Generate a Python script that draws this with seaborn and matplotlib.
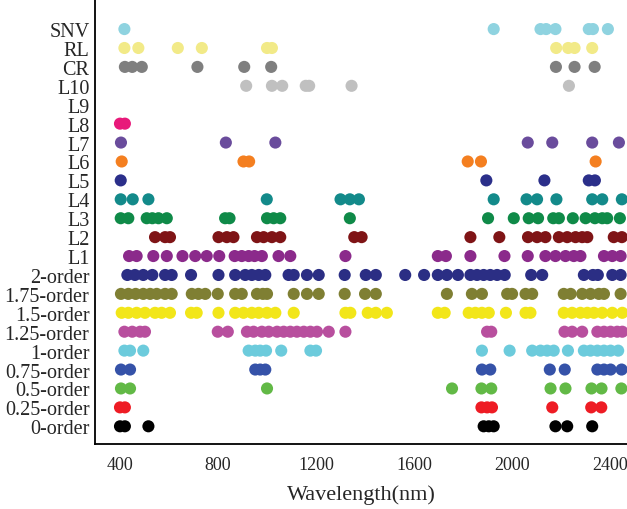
import matplotlib
matplotlib.use("Agg")
import matplotlib.pyplot as plt
import seaborn as sns
import pandas as pd

categories = ["0-order", "0.25-order", "0.5-order", "0.75-order", "1-order",
              "1.25-order", "1.5-order", "1.75-order", "2-order", "L1", "L2",
              "L3", "L4", "L5", "L6", "L7", "L8", "L9", "L10", "CR", "RL", "SNV"]

order_0 = [400, 420, 516, 1884, 1905, 1925, 2177, 2225, 2327]
order_025 = [400, 420, 1875, 1898, 1918, 2164, 2323, 2364]
order_05 = [404, 441, 1000, 1755, 1875, 1915, 2157, 2218, 2324, 2365, 2446]
order_075 = [404, 441, 952, 972, 993, 1877, 1911, 2154, 2215, 2348, 2375, 2402, 2447]
order_1 = [418, 441, 495, 925, 952, 972, 996, 1058, 1177, 1200, 1877, 1990,
           2082, 2116, 2143, 2170, 2228, 2293, 2320, 2348, 2375, 2402, 2433]
order_125 = [418, 450, 482, 502, 799, 840, 918, 945, 979, 1007, 1041, 1068, 1095,
             1122, 1150, 1177, 1204, 1252, 1320, 1898, 1915, 2214, 2245, 2286,
             2348, 2375, 2402, 2429, 2450]
order_15 = [407, 434, 468, 502, 543, 570, 604, 690, 713, 802, 870, 904, 938, 966,
            1000, 1034, 1109, 1320, 1340, 1411, 1444, 1489, 1697, 1725, 1823,
            1850, 1877, 1905, 1975, 2055, 2075, 2211, 2245, 2279, 2307, 2334,
            2368, 2409, 2450]
order_175 = [404, 434, 464, 495, 523, 550, 584, 611, 693, 720, 748, 799, 870, 897,
             959, 983, 1000, 1109, 1163, 1211, 1317, 1400, 1444, 1734, 1836, 1877,
             1980, 2000, 2055, 2082, 2211, 2239, 2286, 2320, 2354, 2375, 2443]
order_2 = [430, 461, 495, 532, 584, 611, 690, 802, 870, 911, 938, 966, 993, 1088,
           1109, 1163, 1211, 1317, 1403, 1444, 1564, 1641, 1697, 1734, 1779, 1830,
           1857, 1884, 1911, 1939, 1970, 2078, 2123, 2293, 2330, 2350, 2409, 2443]
L1 = [437, 468, 536, 591, 655, 707, 754, 805, 868, 897, 925, 949, 979, 1047, 1095,
      1320, 1697, 1730, 1830, 1969, 2064, 2136, 2177, 2218, 2252, 2279, 2375,
      2409, 2443]
L2 = [543, 584, 604, 802, 836, 863, 959, 986, 1020, 1054, 1356, 1386, 1830, 1948,
      2065, 2102, 2136, 2191, 2225, 2259, 2286, 2307, 2415, 2448]
L3 = [403, 434, 509, 532, 557, 591, 829, 847, 1000, 1027, 1054, 1338, 1902, 2007,
      2068, 2106, 2168, 2191, 2248, 2300, 2338, 2368, 2388, 2440]
L4 = [403, 452, 516, 999, 1300, 1338, 1375, 1925, 2059, 2102, 2181, 2327, 2368, 2448]
L5 = [403, 1895, 2132, 2313, 2338]
L6 = [407, 904, 927, 1819, 1873, 2341]
L7 = [404, 832, 1034, 2064, 2164, 2327, 2436]
L8 = [400, 420]
L9 = []
L10 = [915, 1020, 1062, 1158, 1172, 1345, 2232]
CR = [420, 450, 489, 716, 907, 1017, 2179, 2255, 2337]
RL = [418, 475, 636, 734, 1000, 1020, 2180, 2229, 2255, 2327]
SNV = [418, 1925, 2116, 2139, 2177, 2313, 2330, 2391]

series = [order_0, order_025, order_05, order_075, order_1, order_125, order_15,
          order_175, order_2, L1, L2, L3, L4, L5, L6, L7, L8, L9, L10, CR, RL, SNV]

colors = ["#000000", "#ee1c24", "#62b946", "#3552a8", "#6ccbdc", "#b84f9e",
          "#f2e619", "#7f7f33", "#2b2e84", "#8b2a8b", "#7f1416", "#0f8a48",
          "#138a8a", "#2b2f8a", "#f47f20", "#6a4c9c", "#e8197a", "#999999",
          "#c0c0c0", "#7f7f7f", "#f2ea88", "#8fd3e0"]

rows = []
for i, (cat, vals) in enumerate(zip(categories, series)):
    for v in vals:
        rows.append({"Wavelength": v, "pos": i, "cat": cat})
df = pd.DataFrame(rows)
palette = dict(zip(categories, colors))

sns.set_theme(style="white")
plt.rcParams["font.family"] = ["Liberation Serif", "DejaVu Serif"]

fig = plt.figure(figsize=(6.27, 5.10), dpi=100)
ax = fig.add_axes([0.1515, 0.1275, 0.8485, 0.8725])

sns.scatterplot(data=df, x="Wavelength", y="pos", hue="cat", palette=palette,
                s=76, linewidth=0, legend=False, ax=ax, clip_on=True)

ax.set_xlim(298, 2469)
ax.set_ylim(-0.935, 22.59)
ax.set_xticks([400, 800, 1200, 1600, 2000, 2400])
ax.set_yticks(range(len(categories)))
ax.set_yticklabels(categories)
ax.tick_params(axis="both", direction="in", length=6, width=1.2, color="black")
ax.tick_params(axis="y", labelsize=14.5, pad=4)
ax.tick_params(axis="x", labelsize=13, pad=9)
ax.set_xlabel("Wavelength(nm)", fontsize=16, labelpad=8)
ax.set_ylabel("")
for side in ["top", "right"]:
    ax.spines[side].set_visible(False)
for side in ["left", "bottom"]:
    ax.spines[side].set_color("black")
    ax.spines[side].set_linewidth(1.3)

fig.savefig("out.png", dpi=100)
